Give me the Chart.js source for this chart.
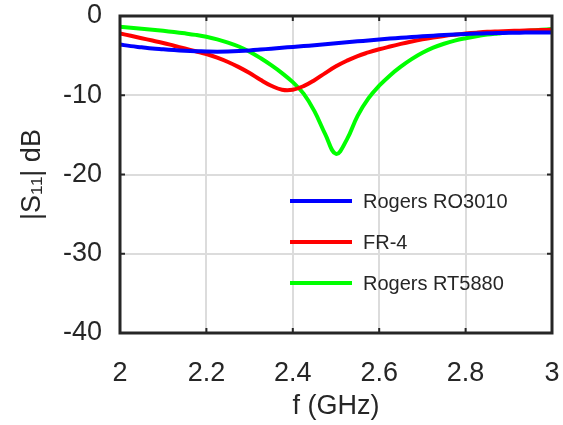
<!DOCTYPE html>
<html>
<head>
<meta charset="utf-8">
<script src="https://cdn.jsdelivr.net/npm/chart.js@4.4.1/dist/chart.umd.min.js"></script>
<style>
  html, body { margin: 0; padding: 0; background: #fff; }
  #wrap { width: 563px; height: 425px; }
</style>
</head>
<body>
<div id="wrap"><canvas id="s11"></canvas></div>
<script>
// Return loss of the patch on three substrates, 2–3 GHz sweep
const freqGHz = [
  2.000, 2.025, 2.050, 2.075, 2.100, 2.125, 2.150, 2.175, 2.200, 2.225,
  2.250, 2.275, 2.300, 2.325, 2.350, 2.375, 2.400, 2.425, 2.450, 2.475,
  2.500, 2.525, 2.550, 2.575, 2.600, 2.625, 2.650, 2.675, 2.700, 2.725,
  2.750, 2.775, 2.800, 2.825, 2.850, 2.875, 2.900, 2.925, 2.950, 2.975, 3.000
];
const ro3010 = [
  -3.6, -3.8, -3.95, -4.1, -4.2, -4.3, -4.38, -4.44, -4.48, -4.5,
  -4.48, -4.43, -4.35, -4.24, -4.12, -4.0, -3.9, -3.8, -3.68, -3.56,
  -3.44, -3.32, -3.2, -3.08, -2.96, -2.85, -2.75, -2.65, -2.56, -2.48,
  -2.4, -2.33, -2.27, -2.22, -2.18, -2.15, -2.12, -2.1, -2.09, -2.08, -2.07
];
const fr4 = [
  -2.2, -2.5, -2.8, -3.1, -3.4, -3.75, -4.1, -4.45, -4.8, -5.25,
  -5.8, -6.45, -7.2, -8.05, -8.8, -9.3, -9.3, -8.85, -8.1, -7.2,
  -6.35, -5.65, -5.05, -4.6, -4.2, -3.85, -3.52, -3.22, -2.95, -2.72,
  -2.52, -2.36, -2.22, -2.1, -2.0, -1.94, -1.89, -1.85, -1.81, -1.78, -1.75
];
const rt5880 = [
  -1.35, -1.48, -1.6, -1.73, -1.87, -2.02, -2.19, -2.38, -2.62, -2.95,
  -3.35, -3.85, -4.5, -5.3, -6.2, -7.2, -8.35, -9.8, -12.0, -14.9,
  -17.4, -15.6, -12.6, -10.4, -8.8, -7.5, -6.4, -5.45, -4.65, -4.0,
  -3.5, -3.1, -2.8, -2.55, -2.35, -2.2, -2.06, -1.95, -1.85, -1.75, -1.65
];
const seriesNames = ["Rogers RO3010", "FR-4", "Rogers RT5880"];
const seriesColors = ["#0000ff", "#ff0000", "#00ff00"];
const xTicks = [2, 2.2, 2.4, 2.6, 2.8, 3];
const yTicks = [-40, -30, -20, -10, 0];

const INK = "#262626";
const FONT = "'Liberation Sans', Arial, Helvetica, sans-serif";

const toPoints = (ys) => ys.map((y, i) => ({ x: freqGHz[i], y }));

// box frame + inward tick marks on all four sides
const framePlugin = {
  id: "frame",
  afterDatasetsDraw(chart) {
    const { ctx, chartArea: a, scales } = chart;
    const len = 5;
    ctx.save();
    ctx.strokeStyle = INK;
    ctx.lineWidth = 2;
    ctx.beginPath();
    xTicks.forEach((v) => {
      const px = scales.x.getPixelForValue(v);
      ctx.moveTo(px, a.bottom); ctx.lineTo(px, a.bottom - len);
      ctx.moveTo(px, a.top); ctx.lineTo(px, a.top + len);
    });
    yTicks.forEach((v) => {
      const py = scales.y.getPixelForValue(v);
      ctx.moveTo(a.left, py); ctx.lineTo(a.left + len, py);
      ctx.moveTo(a.right, py); ctx.lineTo(a.right - len, py);
    });
    ctx.stroke();
    ctx.lineWidth = 3;
    ctx.strokeRect(a.left, a.top, a.right - a.left, a.bottom - a.top);
    ctx.restore();
  },
};

// legend inside the plot, no box
const insideLegend = {
  id: "insideLegend",
  afterDraw(chart) {
    const { ctx, chartArea: a } = chart;
    const x0 = a.left + 170, lineLen = 62, gap = 11, y0 = a.top + 185, step = 41;
    ctx.save();
    ctx.font = "20px " + FONT;
    ctx.textBaseline = "middle";
    ctx.fillStyle = INK;
    chart.data.datasets.forEach((ds, i) => {
      const y = y0 + i * step;
      ctx.strokeStyle = ds.borderColor;
      ctx.lineWidth = 4;
      ctx.beginPath();
      ctx.moveTo(x0, y); ctx.lineTo(x0 + lineLen, y);
      ctx.stroke();
      ctx.fillText(ds.label, x0 + lineLen + gap, y + 1);
    });
    ctx.restore();
  },
};

new Chart(document.getElementById("s11"), {
  type: "line",
  data: {
    datasets: [ro3010, fr4, rt5880].map((ys, i) => ({
      label: seriesNames[i],
      data: toPoints(ys),
      borderColor: seriesColors[i],
      backgroundColor: seriesColors[i],
      borderWidth: 4,
      pointRadius: 0,
      tension: 0.4,
      fill: false,
    })),
  },
  options: {
    responsive: true,
    maintainAspectRatio: false,
    animation: false,
    layout: { padding: { top: 16, right: 11, left: 0, bottom: 0 } },
    plugins: { legend: { display: false }, tooltip: { enabled: false } },
    scales: {
      x: {
        type: "linear",
        min: 2, max: 3,
        afterBuildTicks: (s) => { s.ticks = xTicks.map((v) => ({ value: v })); },
        afterFit: (s) => { s.height = 92; s.paddingLeft = 0; s.paddingRight = 0; },
        grid: { color: "#dcdcdc", lineWidth: 2, drawTicks: false },
        border: { display: false },
        ticks: {
          color: INK, font: { family: FONT, size: 27 }, padding: 24, maxRotation: 0,
          callback: (v) => String(v),
        },
        title: { display: true, text: "f (GHz)", color: INK, font: { family: FONT, size: 27 }, padding: { top: 0, bottom: 2 } },
      },
      y: {
        min: -40, max: 0,
        afterBuildTicks: (s) => { s.ticks = yTicks.map((v) => ({ value: v })); },
        afterFit: (s) => { s.width = 120; s.paddingTop = 0; s.paddingBottom = 0; },
        grid: { color: "#dcdcdc", lineWidth: 2, drawTicks: false },
        border: { display: false },
        ticks: { color: INK, font: { family: FONT, size: 27 }, padding: 18, callback: (v) => String(v) },
        title: { display: true, text: "|S₁₁| dB", color: INK, font: { family: FONT, size: 27 }, padding: { top: 16, bottom: 0 } },
      },
    },
  },
  plugins: [framePlugin, insideLegend],
});
</script>
</body>
</html>
